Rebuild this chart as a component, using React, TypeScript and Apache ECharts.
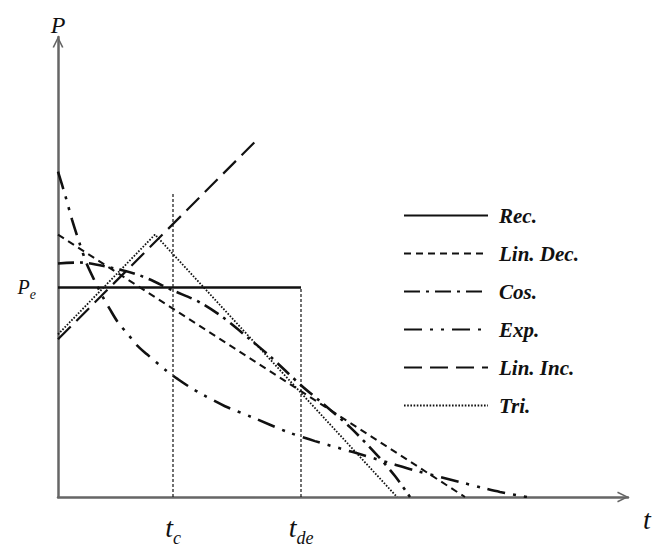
import React, { useEffect, useRef } from "react";
import * as echarts from "echarts";

// Schematic load profiles: t (arbitrary units) vs P (arbitrary units)
const tC = 11.5;
const tDe = 24.3;
const pE = 21.0;

const recData = [[0, 21.0], [24.3, 21.0]];
const linDecData = [[0, 26.3], [40.7, 0]];
const cosT = [0, 2.2, 5.2, 8.2, 11.5, 14.2, 16.5, 19.2, 21.2, 24.3, 26.2, 29.2, 32.0, 33.7, 35.2];
const cosP = [23.4, 23.5, 23.0, 22.2, 20.7, 19.5, 18.0, 15.8, 14.1, 11.2, 9.6, 7.0, 4.1, 2.1, 0];
const expT = [0, 0.7, 1.4, 2.2, 2.9, 3.7, 4.4, 5.2, 6.0, 7.0, 7.9, 8.9, 10.9, 12.0, 13.2, 14.4, 16.7, 19.4, 23.0, 25.7, 29.5, 33.5, 35.9, 40.2, 42.5, 44.2, 46.9];
const expP = [32.6, 30.3, 27.8, 25.3, 23.3, 21.6, 20.2, 18.8, 17.5, 16.3, 15.2, 14.3, 12.6, 11.8, 11.0, 10.3, 9.1, 8.0, 6.5, 5.6, 4.5, 3.3, 2.6, 1.5, 0.9, 0.5, 0.0];
const linIncData = [[0, 15.8], [19.7, 35.6]];
const triData = [[0, 16.3], [9.7, 26.3], [33.9, 0]];
const tcGuide = [[11.5, 0], [11.5, 30.5]];
const tdeGuide = [[24.3, 0], [24.3, 21.0]];

const legendNames = ["Rec.", "Lin. Dec.", "Cos.", "Exp.", "Lin. Inc.", "Tri."];

const SERIF = "'Liberation Serif', 'DejaVu Serif', serif";
const arrowPath = "path://M0,10 L5,0 L10,10 L8.6,10.6 L5,3 L1.4,10.6 Z";

export default function App() {
  const ref = useRef<HTMLDivElement>(null);
  useEffect(() => {
    if (!ref.current) return;
    const chart = echarts.init(ref.current, null, { renderer: "svg" });
    const zip = (a: number[], b: number[]) => a.map((v, i) => [v, b[i]]);
    const black = "#111";
    const mk = (name: string, data: number[][], width: number, type: any, smooth = false) => ({
      name,
      type: "line",
      data,
      symbol: "none",
      smooth: smooth ? 0.3 : false,
      itemStyle: { color: black },
      lineStyle: { color: black, width, type },
    });
    const option: any = {
      animation: false,
      backgroundColor: "#fff",
      grid: { left: 58, top: 37, width: 570, height: 461, containLabel: false },
      xAxis: {
        type: "value",
        min: 0,
        max: 57,
        name: "t",
        nameLocation: "end",
        nameGap: 15,
        nameTextStyle: {
          fontFamily: SERIF,
          fontStyle: "italic",
          fontSize: 28,
          color: black,
          verticalAlign: "top",
          padding: [8, 0, 0, 0],
        },
        axisLine: {
          show: true,
          symbol: ["none", arrowPath],
          symbolSize: [11, 12],
          symbolOffset: [0, -5],
          lineStyle: { color: "#666", width: 2.5 },
        },
        axisTick: { show: false },
        splitLine: { show: false },
        axisLabel: {
          show: true,
          customValues: [tC, tDe],
          margin: 10,
          formatter: (v: number) => (Math.abs(v - tC) < 0.01 ? "{t|t}{s|c}" : "{t|t}{s|de}"),
          rich: {
            t: { fontFamily: SERIF, fontStyle: "italic", fontSize: 28, color: black },
            s: { fontFamily: SERIF, fontStyle: "italic", fontSize: 18, color: black, padding: [22, 0, 0, 0] },
          },
        },
      },
      yAxis: {
        type: "value",
        min: 0,
        max: 46.1,
        name: "P",
        nameLocation: "end",
        nameGap: 0,
        nameTextStyle: { fontFamily: SERIF, fontStyle: "italic", fontSize: 24, color: black },
        axisLine: {
          show: true,
          symbol: ["none", arrowPath],
          symbolSize: [11, 12],
          symbolOffset: [0, -5],
          lineStyle: { color: "#666", width: 2.5 },
        },
        axisTick: { show: false },
        splitLine: { show: false },
        axisLabel: {
          show: true,
          customValues: [pE],
          margin: 22,
          formatter: () => "{p|P}{e|e}",
          rich: {
            p: { fontFamily: SERIF, fontStyle: "italic", fontSize: 20, color: black },
            e: { fontFamily: SERIF, fontStyle: "italic", fontSize: 14, color: black, padding: [14, 0, 0, 0] },
          },
        },
      },
      legend: {
        data: legendNames,
        orient: "vertical",
        left: 398,
        top: 200,
        itemWidth: 84,
        itemHeight: 14,
        itemGap: 17,
        selectedMode: false,
        itemStyle: { opacity: 0 },
        textStyle: {
          fontFamily: SERIF,
          fontStyle: "italic",
          fontWeight: "bold",
          fontSize: 21,
          color: black,
          padding: [0, 0, 0, 6],
        },
      },
      series: [
        mk("Rec.", recData, 2.4, "solid"),
        mk("Lin. Dec.", linDecData, 2, [7, 5]),
        mk("Cos.", zip(cosT, cosP), 2.6, [16, 6, 3, 6], true),
        mk("Exp.", zip(expT, expP), 2.6, [18, 8, 3, 8, 3, 8], true),
        mk("Lin. Inc.", linIncData, 2.2, [18, 8]),
        mk("Tri.", triData, 1.8, [1.6, 1.6]),
        mk("guide-tc", tcGuide, 1.2, [3, 2]),
        mk("guide-tde", tdeGuide, 1.2, [3, 2]),
      ],
    };
    chart.setOption(option);
    return () => chart.dispose();
  }, []);
  return <div ref={ref} style={{ width: 661, height: 547, position: "absolute", left: 0, top: 0 }} />;
}
